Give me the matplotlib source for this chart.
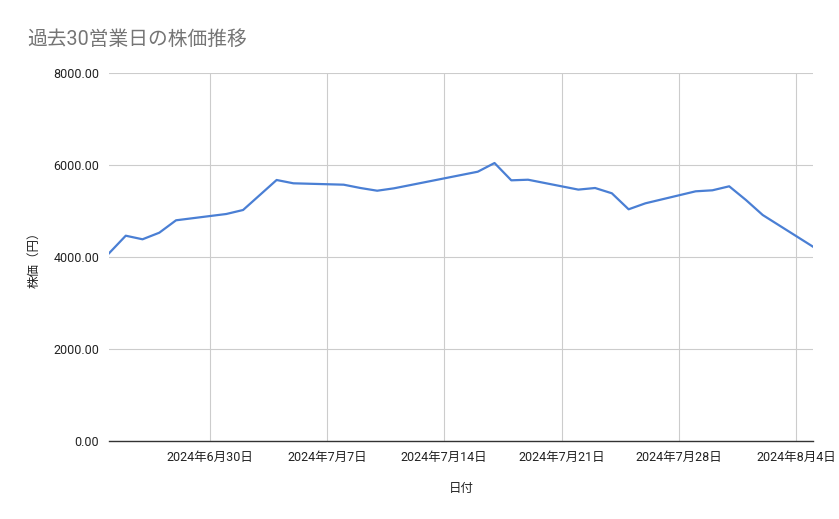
import matplotlib
matplotlib.use("Agg")
import matplotlib.pyplot as plt
import matplotlib.dates as mdates
from matplotlib.ticker import FuncFormatter
import numpy as np
import pandas as pd

JP = ["Roboto", "Noto Sans CJK JP", "DejaVu Sans"]
plt.rcParams["font.family"] = JP

# 過去30営業日 (7/15 は祝日)
dates = pd.to_datetime([
    "2024-06-24", "2024-06-25", "2024-06-26", "2024-06-27", "2024-06-28",
    "2024-07-01", "2024-07-02", "2024-07-03", "2024-07-04", "2024-07-05",
    "2024-07-08", "2024-07-09", "2024-07-10", "2024-07-11", "2024-07-12",
    "2024-07-16", "2024-07-17", "2024-07-18", "2024-07-19",
    "2024-07-22", "2024-07-23", "2024-07-24", "2024-07-25", "2024-07-26",
    "2024-07-29", "2024-07-30", "2024-07-31", "2024-08-01", "2024-08-02",
    "2024-08-05",
])
prices = [
    4080, 4463, 4385, 4528, 4798,
    4935, 5022, 5348, 5674, 5602,
    5572, 5500, 5441, 5493, 5565,
    5854, 6043, 5667, 5680,
    5465, 5500, 5385, 5037, 5167,
    5428, 5450, 5537, 5239, 4913,
    4224,
]
tick_dates = pd.to_datetime(["2024-06-30", "2024-07-07", "2024-07-14",
                             "2024-07-21", "2024-07-28", "2024-08-04"])
y_ticks = [0, 2000, 4000, 6000, 8000]

fig = plt.figure(figsize=(8.39, 5.19), dpi=100)
W, H = 839, 519
ax = fig.add_axes([109 / W, 1 - 441 / H, (813 - 109) / W, (441 - 73) / H])

ax.plot(dates, prices, color="#4a7fd4", linewidth=1.6, solid_joinstyle="round")

ax.set_xlim(dates[0], dates[-1])
ax.set_ylim(0, 8000)
ax.set_xticks(tick_dates)
ax.xaxis.set_major_formatter(
    FuncFormatter(lambda v, p: "{0}年{1}月{2}日".format(
        mdates.num2date(v).year, mdates.num2date(v).month, mdates.num2date(v).day)))
ax.set_yticks(y_ticks)
ax.yaxis.set_major_formatter(FuncFormatter(lambda v, p: f"{v:.2f}"))

ax.grid(True, color="#cccccc", linewidth=0.8)
ax.set_axisbelow(True)
for s in ["top", "right", "left"]:
    ax.spines[s].set_visible(False)
ax.spines["bottom"].set_color("#333333")
ax.spines["bottom"].set_linewidth(1.0)
ax.tick_params(length=0, labelsize=9, colors="#222222", pad=7)

ax.set_xlabel("日付", fontsize=9, color="#222222", labelpad=13)
ax.set_ylabel("株価（円）", fontsize=9, color="#222222", labelpad=9)

fig.text(27 / W, 1 - 39 / H, "過去30営業日の株価推移", fontsize=14.2,
         color="#757575", va="center", ha="left")

fig.savefig("out.png", dpi=100, facecolor="white")
